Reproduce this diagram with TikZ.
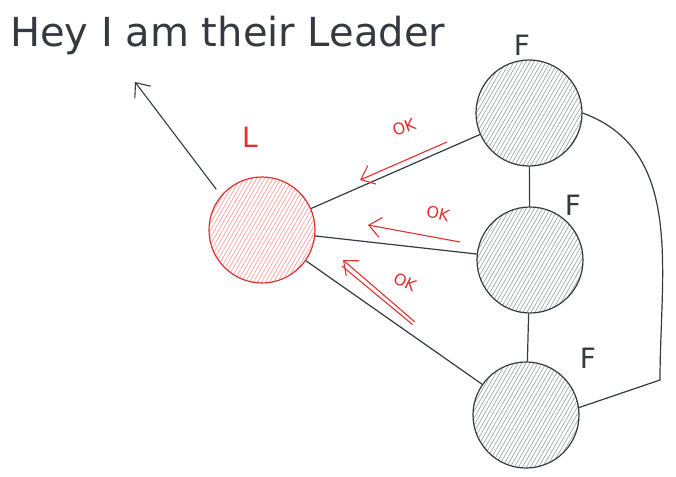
\documentclass[tikz,border=0pt]{standalone}
\usepackage{fontspec}
\setmainfont{DejaVu Sans}
\usetikzlibrary{arrows.meta, patterns.meta, calc}
\definecolor{inkdark}{RGB}{52, 58, 64}
\definecolor{inkred}{RGB}{224, 49, 49}
\definecolor{hatchred}{RGB}{255, 160, 160}
\definecolor{hatchgray}{RGB}{160, 168, 176}

\begin{document}
\begin{tikzpicture}[
    x=1pt, y=-1pt,
    leader/.style={
        circle, minimum size=106pt, inner sep=0pt,
        draw=inkred, line width=1.2pt,
        pattern={Lines[angle=60, distance=3.5pt, line width=0.7pt]},
        pattern color=hatchred
    },
    follower/.style={
        circle, minimum size=106pt, inner sep=0pt,
        draw=inkdark, line width=1.2pt,
        pattern={Lines[angle=60, distance=3.5pt, line width=0.7pt]},
        pattern color=hatchgray
    },
    link/.style={draw=inkdark, line width=1.2pt},
    arrow/.style={
        -{Straight Barb[length=12pt, width=20pt]},
        line width=1.1pt, draw=inkdark
    },
    okarrow/.style={
        -{Straight Barb[length=12pt, width=20pt]},
        line width=1.1pt, draw=inkred
    },
    title/.style={font=\fontsize{40}{42}\selectfont, text=inkdark, anchor=base west, inner sep=0pt},
    letter/.style={font=\fontsize{28}{30}\selectfont, inner sep=0pt},
    oklbl/.style={font=\fontsize{16}{17}\selectfont, text=inkred, inner sep=0pt}
]
\useasboundingbox (0, 0) rectangle (676, 476);

% 1. Titulo
\node[title] (head) at (10, 47) {Hey I am their Leader};

% 2. Nos
\node[leader] (L) at (262, 230) {};
\node[follower] (F1) at (529, 113) {};
\node[follower] (F2) at (530, 260) {};
\node[follower] (F3) at (526, 415) {};

\node[letter, text=inkred] (lblL) at (250, 137) {L};
\node[letter, text=inkdark] (lblF1) at (522, 45) {F};
\node[letter, text=inkdark] (lblF2) at (573, 205) {F};
\node[letter, text=inkdark] (lblF3) at (588, 358) {F};

% 3. Conexoes
\draw[link] (L) -- (F1);
\draw[link] (L) -- (F2);
\draw[link] (L) -- (F3);
\draw[link] (F1) -- (F2);
\draw[link] (F2) -- (F3);

\coordinate (bend) at (660, 380);
\draw[link] (F1.east) to[out=-20, in=90] (bend) -- (F3.8);

% 4. Seta do lider
\coordinate (point) at (135, 82);
\draw[arrow, shorten <=8pt] (L.140) -- (point);

% 5. Respostas OK
\coordinate (ok1a) at (447, 142);
\coordinate (ok1b) at (360, 180);
\coordinate (ok2a) at (460, 242);
\coordinate (ok2b) at (368, 225);
\coordinate (ok3a) at (415, 322);
\coordinate (ok3b) at (343, 260);

\draw[okarrow] (ok1a) -- (ok1b);
\draw[okarrow] (ok2a) -- (ok2b);
\draw[okarrow] (ok3a) -- (ok3b);
\draw[line width=1.1pt, draw=inkred] ($(ok3a)+(-2.5, 2.5)$) -- ($(ok3b)+(-1, 6)$);

\node[oklbl, rotate=20] (ok1) at (404, 127) {OK};
\node[oklbl, rotate=-14] (ok2) at (438, 214) {OK};
\node[oklbl, rotate=-26] (ok3) at (405, 282) {OK};

\end{tikzpicture}
\end{document}
